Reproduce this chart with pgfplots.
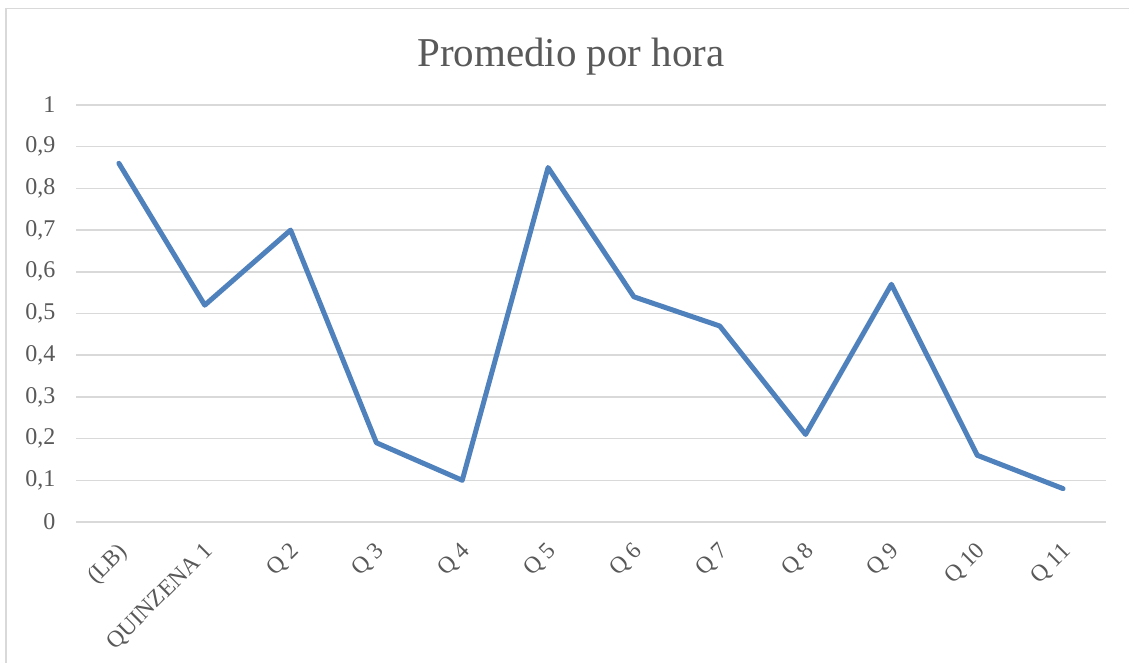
\documentclass[border=0pt]{standalone}
\usepackage{pgfplots}
\pgfplotsset{compat=1.18}
\usepackage{fontspec}
\setmainfont{Liberation Serif}
\definecolor{lineblue}{HTML}{4F81BD}
\definecolor{gridgray}{HTML}{D9D9D9}
\definecolor{textgray}{HTML}{595959}
\definecolor{framegray}{HTML}{D9D9D9}
\begin{document}
\begin{tikzpicture}[x=1pt,y=1pt]
\useasboundingbox (0,0) rectangle (1129,663);
\fill[white] (0,0) rectangle (1129,663);
\draw[framegray, line width=1.5pt] (6,0) -- (6,654.5) -- (1129,654.5);
\begin{axis}[
  at={(76pt,141pt)}, anchor=south west,
  scale only axis, width=1030pt, height=417pt,
  xmin=-0.5, xmax=11.5, ymin=0, ymax=1,
  axis line style={draw=none},
  tick style={draw=none},
  ytick={0,0.1,0.2,0.3,0.4,0.5,0.6,0.7,0.8,0.9,1},
  /pgf/number format/use comma,
  /pgf/number format/fixed,
  /pgf/number format/precision=1,
  /pgf/number format/assume math mode=true,
  ymajorgrids, grid style={gridgray, line width=1.5pt},
  xtick={0,...,11},
  xticklabels={(LB),QUINZENA 1,Q 2,Q 3,Q 4,Q 5,Q 6,Q 7,Q 8,Q 9,Q 10,Q 11},
  xticklabel style={rotate=45, anchor=north east, font=\fontsize{23.5}{26}\selectfont, text=textgray, xshift=-11.5pt, yshift=-8.5pt},
  yticklabel style={font=\fontsize{24}{28}\selectfont, text=textgray, xshift=-17pt},
  title={Promedio por hora},
  title style={font=\fontsize{41}{46}\selectfont, text=textgray, yshift=20pt, xshift=-20pt},
  clip=false,
]
\addplot[lineblue, line width=5pt, line join=round, line cap=round] coordinates {
(0,0.86) (1,0.52) (2,0.70) (3,0.19) (4,0.10) (5,0.85) (6,0.54) (7,0.47) (8,0.21) (9,0.57) (10,0.16) (11,0.08)
};
\end{axis}
\end{tikzpicture}
\end{document}
